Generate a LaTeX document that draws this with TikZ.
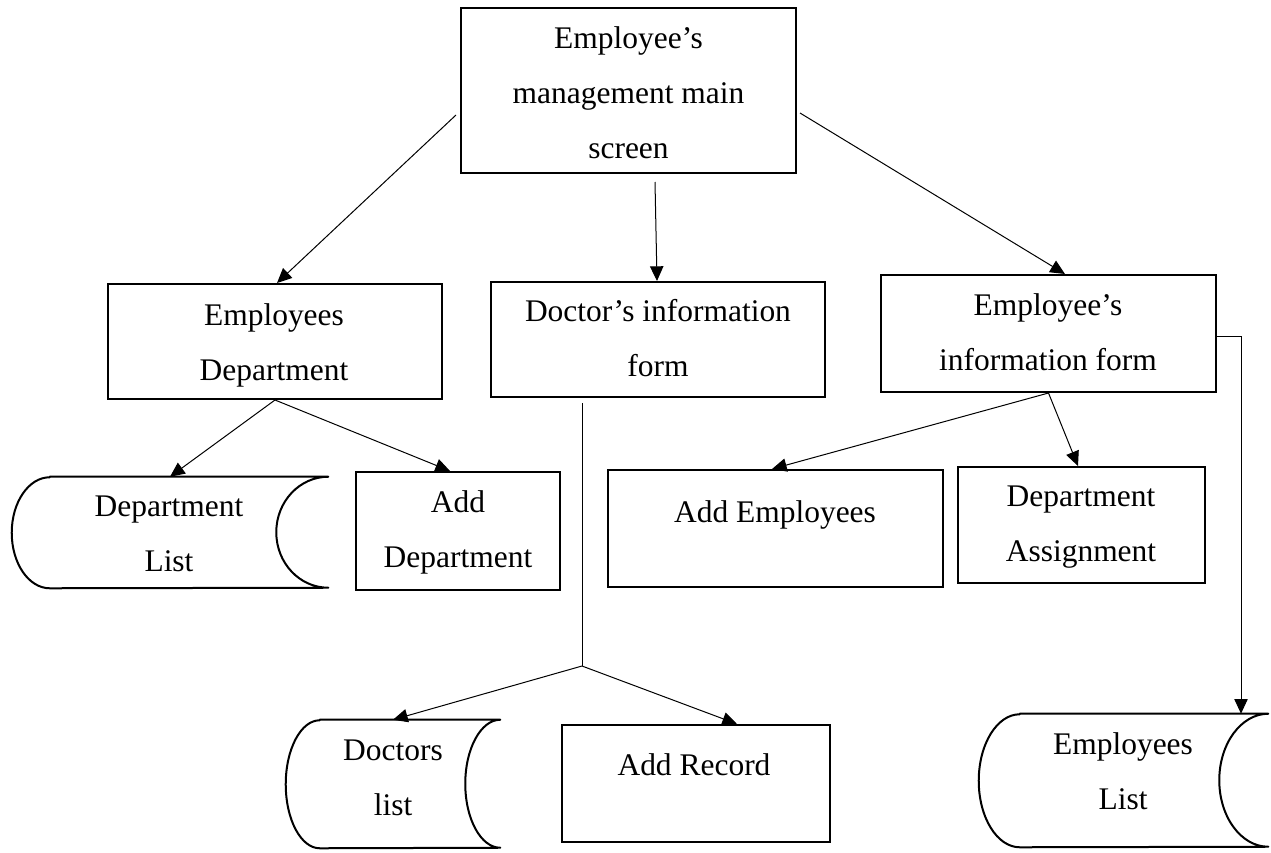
\documentclass[tikz,border=0pt]{standalone}
\usepackage{fontspec}
\setmainfont{Liberation Serif}
\usetikzlibrary{arrows.meta}
\begin{document}
\begin{tikzpicture}[x=0.75pt,y=-0.75pt,
  box/.style={draw, line width=1.5pt, rectangle, inner sep=0pt},
  slot/.style={rectangle, inner sep=0pt},
  lbl/.style={align=center, inner sep=0pt, font=\fontsize{23.6pt}{41.25pt}\selectfont},
  conn/.style={line width=0.75pt},
  arr/.style={conn, -{Triangle[length=11pt,width=10pt]}},
  store/.style={line width=1.5pt, line join=round}]
\useasboundingbox (0,0) rectangle (1271,853);

% rectangular screens and forms
\node[box, minimum width=251.25pt, minimum height=123.75pt] (top) at (628.5,90.5) {};
\node[box, minimum width=250.5pt, minimum height=86.25pt] (empdept) at (275,341.5) {};
\node[box, minimum width=250.5pt, minimum height=86.25pt] (docform) at (658,339.5) {};
\node[box, minimum width=251.25pt, minimum height=87.75pt] (empform) at (1048.5,333.5) {};
\node[box, minimum width=153pt, minimum height=88.5pt] (adddept) at (458,531) {};
\node[box, minimum width=251.25pt, minimum height=87.75pt] (addemp) at (775.5,528.5) {};
\node[box, minimum width=185.25pt, minimum height=87pt] (deptassign) at (1081.5,525) {};
\node[box, minimum width=201pt, minimum height=87.75pt] (addrec) at (696,783.5) {};

% stored-data lists
\node[slot, minimum width=237pt, minimum height=83.25pt] (deplist) at (170,532.5) {};
\node[slot, minimum width=160.5pt, minimum height=96pt] (doclist) at (393,784) {};
\node[slot, minimum width=216.75pt, minimum height=99.75pt] (emplist) at (1123.5,780.5) {};

\draw[store] ([xshift=28.5pt]deplist.north west) -- (deplist.north east)
  arc[start angle=90, end angle=270, x radius=39pt, y radius=41.625pt]
  -- ([xshift=28.5pt]deplist.south west)
  arc[start angle=270, end angle=90, x radius=28.5pt, y radius=41.625pt] -- cycle;
\draw[store] ([xshift=25.5pt]doclist.north west) -- (doclist.north east)
  arc[start angle=90, end angle=270, x radius=26.25pt, y radius=48pt]
  -- ([xshift=25.5pt]doclist.south west)
  arc[start angle=270, end angle=90, x radius=25.5pt, y radius=48pt] -- cycle;
\draw[store] ([xshift=30.75pt]emplist.north west) -- (emplist.north east)
  arc[start angle=90, end angle=270, x radius=36.75pt, y radius=49.875pt]
  -- ([xshift=30.75pt]emplist.south west)
  arc[start angle=270, end angle=90, x radius=30.75pt, y radius=49.875pt] -- cycle;

% texts
\node[lbl] (topT) at (628.5,92.3) {Employee’s\\management main\\screen};
\node[lbl] (empdeptT) at (274,345) {Employees\\Department};
\node[lbl] (docformT) at (658,337.6) {Doctor’s information\\form};
\node[lbl] (empformT) at (1048,332) {Employee’s\\information form};
\node[lbl] (deplistT) at (169,533.7) {Department\\List};
\node[lbl] (adddeptT) at (458,532) {Add\\Department};
\node[lbl] (addempT) at (775,515) {Add Employees};
\node[lbl] (deptassignT) at (1081,527.5) {Department\\Assignment};
\node[lbl] (doclistT) at (393,778) {Doctors\\list};
\node[lbl] (addrecT) at (694,765) {Add Record};
\node[lbl] (emplistT) at (1123,771.6) {Employees\\List};

% connectors
\draw[arr] ([shift={(-4,24.5)}]top.west) -- ([shift={(2,0)}]empdept.north);
\draw[arr] ([shift={(26.5,8)}]top.south) -- ([shift={(-1,0)}]docform.north);
\draw[arr] ([shift={(3,22.5)}]top.east) -- ([shift={(16.5,0)}]empform.north);

\draw[arr] (empdept.south) -- (deplist.north);
\draw[arr] (empdept.south) -- ([shift={(-8,0)}]adddept.north);

\coordinate (fork) at (582,666);
\draw[conn] ([shift={(-76,5)}]docform.south) -- (fork);
\draw[arr] (fork) -- (doclist.north);
\draw[arr] (fork) -- ([shift={(41,0)}]addrec.north);

\draw[arr] (empform.south) -- ([shift={(-3.5,0)}]addemp.north);
\draw[arr] (empform.south) -- ([shift={(-3.5,0)}]deptassign.north);
\draw[arr] ([shift={(0,2.5)}]empform.east) -| ([shift={(117.5,0)}]emplist.north);
\end{tikzpicture}
\end{document}
